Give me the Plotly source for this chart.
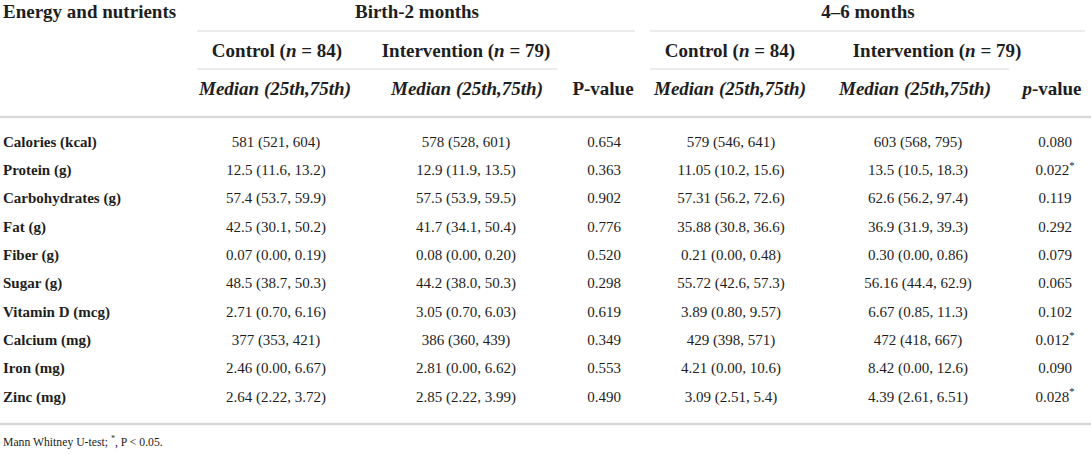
import plotly.graph_objects as go

# === Données du tableau ===
nutrients = ["Calories (kcal)", "Protein (g)", "Carbohydrates (g)", "Fat (g)", "Fiber (g)",
             "Sugar (g)", "Vitamin D (mcg)", "Calcium (mg)", "Iron (mg)", "Zinc (mg)"]

birth_control = ["581 (521, 604)", "12.5 (11.6, 13.2)", "57.4 (53.7, 59.9)", "42.5 (30.1, 50.2)",
                 "0.07 (0.00, 0.19)", "48.5 (38.7, 50.3)", "2.71 (0.70, 6.16)", "377 (353, 421)",
                 "2.46 (0.00, 6.67)", "2.64 (2.22, 3.72)"]
birth_interv = ["578 (528, 601)", "12.9 (11.9, 13.5)", "57.5 (53.9, 59.5)", "41.7 (34.1, 50.4)",
                "0.08 (0.00, 0.20)", "44.2 (38.0, 50.3)", "3.05 (0.70, 6.03)", "386 (360, 439)",
                "2.81 (0.00, 6.62)", "2.85 (2.22, 3.99)"]
birth_p = ["0.654", "0.363", "0.902", "0.776", "0.520", "0.298", "0.619", "0.349", "0.553", "0.490"]

late_control = ["579 (546, 641)", "11.05 (10.2, 15.6)", "57.31 (56.2, 72.6)", "35.88 (30.8, 36.6)",
                "0.21 (0.00, 0.48)", "55.72 (42.6, 57.3)", "3.89 (0.80, 9.57)", "429 (398, 571)",
                "4.21 (0.00, 10.6)", "3.09 (2.51, 5.4)"]
late_interv = ["603 (568, 795)", "13.5 (10.5, 18.3)", "62.6 (56.2, 97.4)", "36.9 (31.9, 39.3)",
               "0.30 (0.00, 0.86)", "56.16 (44.4, 62.9)", "6.67 (0.85, 11.3)", "472 (418, 667)",
               "8.42 (0.00, 12.6)", "4.39 (2.61, 6.51)"]
late_p = ["0.080", "0.022*", "0.119", "0.292", "0.079", "0.065", "0.102", "0.012*", "0.090", "0.028*"]

# === Mise en page (coordonnées en pixels) ===
W, H = 1091, 454
FONT = "Liberation Serif"
INK = "#1e1e1e"
RULE = "#d9d9d9"
BODY = 15
HEAD = 19

row_y = [143 + 28.33 * i for i in range(len(nutrients))]

# centres des colonnes de données
cols = [
    (276, birth_control),
    (466, birth_interv),
    (604, birth_p),
    (731, late_control),
    (918, late_interv),
    (1055, late_p),
]


def star(s):
    return s.replace("*", "<sup>*</sup>")


fig = go.Figure()

# libellés des nutriments
fig.add_trace(go.Scatter(
    x=[3] * len(nutrients), y=row_y, mode="text",
    text=[f"<b>{n}</b>" for n in nutrients],
    textposition="middle right",
    textfont=dict(family=FONT, size=BODY, color=INK),
    hoverinfo="skip", showlegend=False,
))

# colonnes de valeurs
for cx, values in cols:
    fig.add_trace(go.Scatter(
        x=[cx] * len(values), y=row_y, mode="text",
        text=[star(v) for v in values],
        textposition="middle center",
        textfont=dict(family=FONT, size=BODY, color=INK),
        hoverinfo="skip", showlegend=False,
    ))

# en-têtes
headers = [
    (3, 13, "<b>Energy and nutrients</b>", "middle right"),
    (417, 13, "<b>Birth-2 months</b>", "middle center"),
    (868, 13, "<b>4–6 months</b>", "middle center"),
    (277, 52, "<b>Control (<i>n</i> = 84)</b>", "middle center"),
    (466, 52, "<b>Intervention (<i>n</i> = 79)</b>", "middle center"),
    (730, 52, "<b>Control (<i>n</i> = 84)</b>", "middle center"),
    (937, 52, "<b>Intervention (<i>n</i> = 79)</b>", "middle center"),
    (275, 90, "<b><i>Median (25th,75th)</i></b>", "middle center"),
    (467, 90, "<b><i>Median (25th,75th)</i></b>", "middle center"),
    (603, 90, "<b>P-value</b>", "middle center"),
    (730, 90, "<b><i>Median (25th,75th)</i></b>", "middle center"),
    (915, 90, "<b><i>Median (25th,75th)</i></b>", "middle center"),
    (1052, 90, "<b><i>p</i>-value</b>", "middle center"),
]
fig.add_trace(go.Scatter(
    x=[h[0] for h in headers], y=[h[1] for h in headers], mode="text",
    text=[h[2] for h in headers],
    textposition=[h[3] for h in headers],
    textfont=dict(family=FONT, size=HEAD, color=INK),
    hoverinfo="skip", showlegend=False,
))

# note de bas de tableau
fig.add_trace(go.Scatter(
    x=[3], y=[443], mode="text",
    text=["Mann Whitney U-test; <sup>*</sup>, P < 0.05."],
    textposition="middle right",
    textfont=dict(family=FONT, size=11.7, color=INK),
    hoverinfo="skip", showlegend=False,
))

# filets horizontaux
rules = [
    (197, 635, 31, 1),
    (650, 1085, 31, 1),
    (197, 557, 69, 1),
    (650, 1009, 69, 1),
    (0, W, 117, 2.5),
    (0, W, 424, 2.5),
]
for x0, x1, y, w in rules:
    fig.add_shape(type="line", xref="x", yref="y", x0=x0, x1=x1, y0=y, y1=y,
                  line=dict(color=RULE, width=w), layer="below")

fig.update_layout(
    width=W, height=H,
    margin=dict(l=0, r=0, t=0, b=0),
    paper_bgcolor="white", plot_bgcolor="white",
    xaxis=dict(range=[0, W], visible=False, fixedrange=True),
    yaxis=dict(range=[H, 0], visible=False, fixedrange=True),
)

fig.write_html("out.html", config={"displayModeBar": False},
               post_script="document.body.style.margin='0';")
